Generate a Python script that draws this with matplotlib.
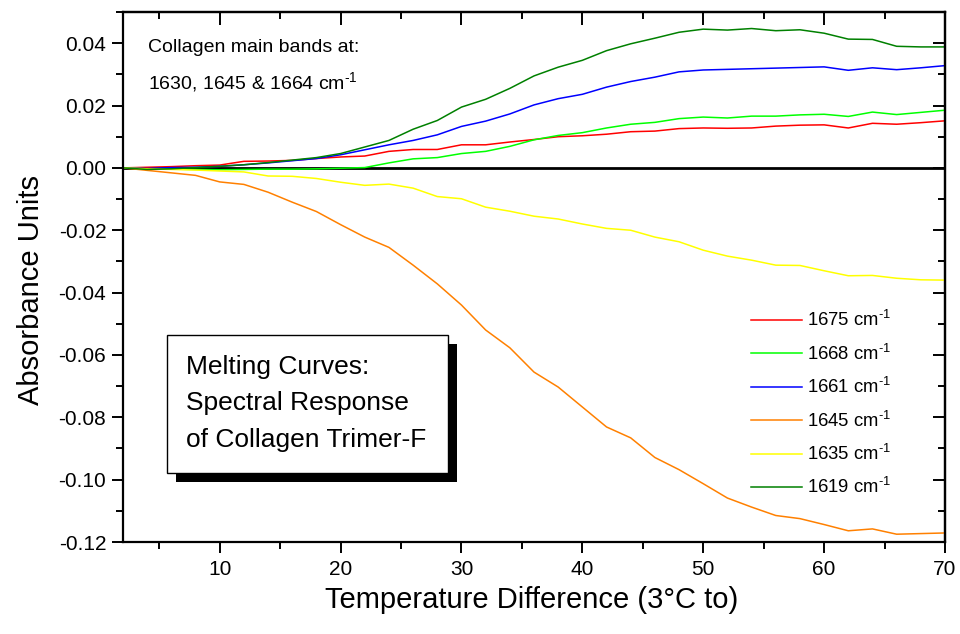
import matplotlib
matplotlib.use("Agg")
import matplotlib.pyplot as plt
from matplotlib.ticker import MultipleLocator, FormatStrFormatter
from matplotlib.patches import Rectangle

plt.rcParams['font.family'] = ['Liberation Sans', 'DejaVu Sans']
plt.rcParams['mathtext.fontset'] = 'custom'
plt.rcParams['mathtext.rm'] = 'Liberation Sans'
plt.rcParams['mathtext.it'] = 'Liberation Sans'
plt.rcParams['axes.unicode_minus'] = False

# Temperature difference (°C)
temp = [2, 4, 6, 8, 10, 12, 14, 16, 18, 20, 22, 24, 26, 28, 30, 32, 34, 36,
        38, 40, 42, 44, 46, 48, 50, 52, 54, 56, 58, 60, 62, 64, 66, 68, 70]

# Absorbance changes for each band
a1675 = [0, 0.0002, 0.0004, 0.0007, 0.0009, 0.0021, 0.0022, 0.0024, 0.0030,
         0.0035, 0.0038, 0.0053, 0.0059, 0.0059, 0.0074, 0.0074, 0.0083,
         0.0091, 0.0100, 0.0103, 0.0108, 0.0116, 0.0118, 0.0126, 0.0128,
         0.0127, 0.0128, 0.0134, 0.0137, 0.0138, 0.0128, 0.0143, 0.0140,
         0.0145, 0.0151]
a1668 = [0, -0.0003, -0.0004, -0.0005, -0.0006, -0.0005, -0.0004, -0.0004,
         -0.0003, -0.0001, 0.0001, 0.0016, 0.0029, 0.0033, 0.0046, 0.0053,
         0.0069, 0.0090, 0.0104, 0.0113, 0.0128, 0.0140, 0.0146, 0.0158,
         0.0163, 0.0160, 0.0166, 0.0166, 0.0170, 0.0172, 0.0165, 0.0179,
         0.0171, 0.0178, 0.0185]
a1661 = [0, -0.0002, 0.0001, 0.0002, 0.0005, 0.0010, 0.0016, 0.0023, 0.0030,
         0.0042, 0.0058, 0.0074, 0.0088, 0.0106, 0.0133, 0.0150, 0.0173,
         0.0202, 0.0222, 0.0236, 0.0259, 0.0277, 0.0291, 0.0308, 0.0314,
         0.0316, 0.0318, 0.0320, 0.0322, 0.0324, 0.0313, 0.0321, 0.0315,
         0.0321, 0.0328]
a1645 = [0, -0.0008, -0.0016, -0.0024, -0.0045, -0.0053, -0.0078, -0.0110,
         -0.0140, -0.0182, -0.0222, -0.0255, -0.0312, -0.0372, -0.0440,
         -0.0520, -0.0577, -0.0655, -0.0703, -0.0767, -0.0831, -0.0866,
         -0.0929, -0.0968, -0.1013, -0.1059, -0.1088, -0.1115, -0.1125,
         -0.1144, -0.1164, -0.1158, -0.1175, -0.1173, -0.1171]
a1635 = [0, -0.0003, -0.0005, -0.0007, -0.0010, -0.0013, -0.0026, -0.0027,
         -0.0034, -0.0046, -0.0056, -0.0052, -0.0065, -0.0092, -0.0099,
         -0.0126, -0.0139, -0.0155, -0.0164, -0.0180, -0.0194, -0.0200,
         -0.0222, -0.0237, -0.0264, -0.0283, -0.0296, -0.0312, -0.0313,
         -0.0330, -0.0346, -0.0345, -0.0354, -0.0359, -0.0360]
a1619 = [0, -0.0005, -0.0003, 0.0001, 0.0005, 0.0010, 0.0017, 0.0025, 0.0033,
         0.0046, 0.0067, 0.0088, 0.0124, 0.0152, 0.0195, 0.0220, 0.0255,
         0.0295, 0.0323, 0.0345, 0.0376, 0.0398, 0.0416, 0.0435, 0.0445,
         0.0442, 0.0447, 0.0440, 0.0443, 0.0432, 0.0413, 0.0412, 0.0390,
         0.0388, 0.0388]

bands = ['1675', '1668', '1661', '1645', '1635', '1619']
series = [a1675, a1668, a1661, a1645, a1635, a1619]
colors = ['#FF0000', '#00FF00', '#0000FF', '#FF8000', '#FFFF00', '#008000']

# superscript "-1" drawn with a plain hyphen
SUP = r'$^{\mathregular{‐1}}$'

fig = plt.figure(figsize=(9.6, 6.34), dpi=100)
ax = fig.add_axes([123 / 960, 1 - 542 / 634, 822 / 960, 530 / 634])

ax.axhline(0, color='black', lw=2.0, zorder=1)
for band, vals, c in zip(bands, series, colors):
    ax.plot(temp, vals, color=c, lw=1.1, label=band + ' cm' + SUP, zorder=2)

ax.set_xlim(2, 70)
ax.set_ylim(-0.12, 0.05)
ax.xaxis.set_major_locator(MultipleLocator(10))
ax.xaxis.set_minor_locator(MultipleLocator(5))
ax.yaxis.set_major_locator(MultipleLocator(0.02))
ax.yaxis.set_minor_locator(MultipleLocator(0.01))
ax.yaxis.set_major_formatter(FormatStrFormatter('%.2f'))

for s in ax.spines.values():
    s.set_linewidth(1.6)

ax.tick_params(axis='both', which='both', width=1.4, labelsize=15)
ax.tick_params(axis='x', which='major', direction='out', length=8, pad=5)
ax.tick_params(axis='x', which='minor', direction='out', length=5)
ax.tick_params(axis='y', which='major', direction='out', length=8, pad=4)
ax.tick_params(axis='y', which='minor', direction='out', length=5)

# inward ticks on the top and right edges
top = ax.secondary_xaxis('top')
top.set_xticks(ax.get_xticks())
top.xaxis.set_minor_locator(MultipleLocator(5))
top.tick_params(which='major', direction='in', length=9, width=1.4, labeltop=False)
top.tick_params(which='minor', direction='in', length=5, width=1.4)
top.spines['top'].set_linewidth(1.6)
right = ax.secondary_yaxis('right')
right.yaxis.set_major_locator(MultipleLocator(0.02))
right.yaxis.set_minor_locator(MultipleLocator(0.01))
right.tick_params(which='major', direction='in', length=9, width=1.4, labelright=False)
right.tick_params(which='minor', direction='in', length=5, width=1.4)
right.spines['right'].set_linewidth(1.6)

ax.set_xlabel('Temperature Difference (3°C to)', fontsize=21)
ax.xaxis.set_label_coords(0.497, -0.083)
ax.set_ylabel('Absorbance Units', fontsize=21)
ax.yaxis.set_label_coords(-0.095, 0.475)

leg = ax.legend(loc='upper left', bbox_to_anchor=(0.764, 0.437), frameon=False,
                fontsize=13.3, handlelength=2.75, handletextpad=0.3,
                labelspacing=0.72, borderpad=0, borderaxespad=0)

ax.text(0.0304, 1 - (47 - 12) / 530, 'Collagen main bands at:', transform=ax.transAxes,
        fontsize=14, va='center', ha='left')
ax.text(0.0304, 1 - (82 - 12) / 530, '1630, 1645 & 1664 cm' + SUP, transform=ax.transAxes,
        fontsize=14, va='center', ha='left')

# title box with drop shadow
bx0, bx1 = (167 - 123) / 822, (448 - 123) / 822
by0, by1 = 1 - (473 - 12) / 530, 1 - (335 - 12) / 530
dx, dy = 9 / 822, 9 / 530
ax.add_patch(Rectangle((bx0 + dx, by0 - dy), bx1 - bx0, by1 - by0, transform=ax.transAxes,
                       facecolor='black', edgecolor='black', lw=0, zorder=4))
ax.add_patch(Rectangle((bx0, by0), bx1 - bx0, by1 - by0, transform=ax.transAxes,
                       facecolor='white', edgecolor='black', lw=1.0, zorder=5))
for line, ypx in zip(['Melting Curves:', 'Spectral Response', 'of Collagen Trimer-F'],
                     [367, 403, 440]):
    ax.text(0.0766, 1 - (ypx - 12) / 530, line, transform=ax.transAxes,
            fontsize=19, va='center', ha='left', zorder=6)

fig.savefig('out.png', dpi=100)
